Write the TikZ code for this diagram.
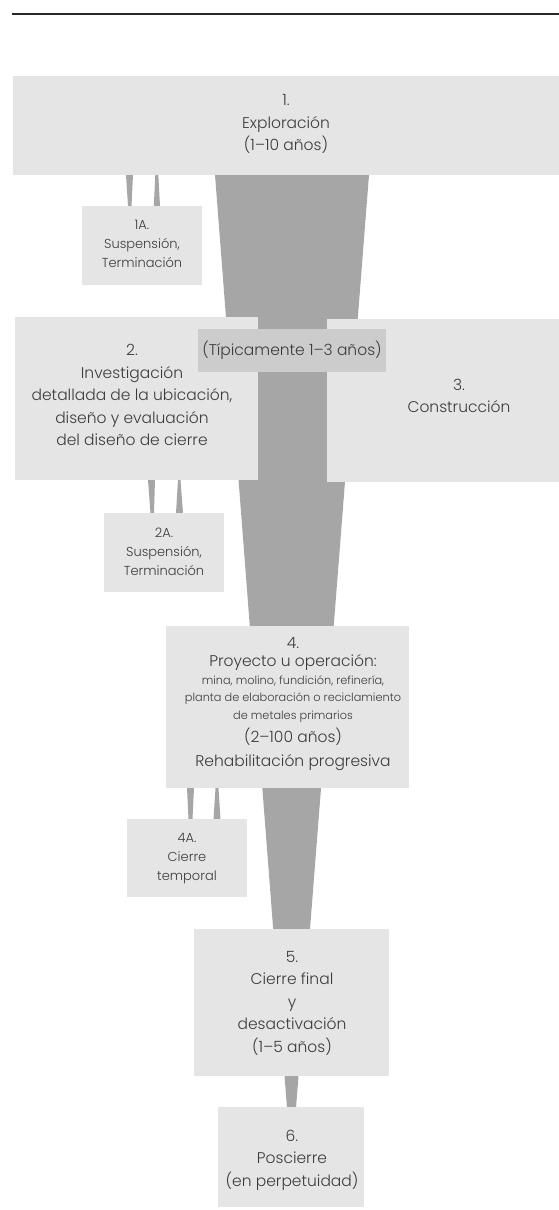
\documentclass[tikz,border=0pt]{standalone}
\usepackage{fontspec}
\setmainfont{Poppins Light}
\definecolor{boxgray}{RGB}{229,229,229}
\definecolor{labgray}{RGB}{204,204,204}
\definecolor{fungray}{RGB}{166,166,166}
\definecolor{txtgray}{RGB}{60,60,60}
\definecolor{rulegray}{RGB}{40,40,40}
\begin{document}
\begin{tikzpicture}[x=1pt,y=-1pt,
  box/.style={fill=boxgray, draw=none, inner sep=0pt, outer sep=0pt},
  labbox/.style={fill=labgray, draw=none, inner sep=0pt, outer sep=0pt, text=txtgray, font=\fontsize{15.5}{18}\selectfont},
  bigtxt/.style={text=txtgray, align=center, inner sep=0pt, font=\fontsize{15.5}{22.5}\selectfont},
  smalltxt/.style={text=txtgray, align=center, inner sep=0pt, font=\fontsize{13}{19}\selectfont},
  funnel/.style={fill=fungray, draw=none}]
\useasboundingbox (0,0) rectangle (559,1210);
% top rule
\draw[rulegray, line width=1.2pt] (12,14) -- (559,14);
% main funnel
\fill[funnel] (215,175) -- (369,175) -- (296,1108) -- (287,1108) -- cycle;
% side wedges (down and back up)
\fill[funnel] (126,175) -- (133,175) -- (131.5,206) -- (128,206) -- cycle;
\fill[funnel] (155.3,175) -- (158.3,175) -- (160,206) -- (153.8,206) -- cycle;
\fill[funnel] (148,480) -- (155,480) -- (154,513) -- (150.5,513) -- cycle;
\fill[funnel] (178,480) -- (180.5,480) -- (183,513) -- (176,513) -- cycle;
\fill[funnel] (187,788) -- (194,788) -- (192.5,819) -- (188.5,819) -- cycle;
\fill[funnel] (215.5,788) -- (218.5,788) -- (220.5,819) -- (213.5,819) -- cycle;
% boxes
\node[box, minimum width=546pt, minimum height=99pt] (b1) at (286,125.5) {};
\node[box, minimum width=120pt, minimum height=79pt] (b1a) at (142,245.5) {};
\node[box, minimum width=243pt, minimum height=163pt] (b2) at (136.5,398.5) {};
\node[box, minimum width=232pt, minimum height=163pt] (b3) at (443,400.5) {};
\node[box, minimum width=120pt, minimum height=79pt] (b2a) at (164,552.5) {};
\node[box, minimum width=243pt, minimum height=162pt] (b4) at (287.5,707) {};
\node[box, minimum width=120pt, minimum height=78pt] (b4a) at (187,858) {};
\node[box, minimum width=195pt, minimum height=147pt] (b5) at (291.5,1002.5) {};
\node[box, minimum width=146pt, minimum height=100pt] (b6) at (291,1157) {};
\node[labbox, minimum width=188pt, minimum height=43pt] (lab) at (292,350.5) {(Típicamente 1–3 años)};
% texts
\node[bigtxt] (t1) at (286,124) {1.\\Exploración\\(1–10 años)};
\node[smalltxt] (t1a) at (142,244) {1A.\\Suspensión,\\Terminación};
\node[bigtxt] (t2) at (132,395) {2.\\Investigación\\detallada de la ubicación,\\diseño y evaluación\\del diseño de cierre};
\node[bigtxt] (t3) at (459,396) {3.\\Construcción};
\node[smalltxt] (t2a) at (164,552) {2A.\\Suspensión,\\Terminación};
\node[bigtxt, font=\fontsize{15.5}{17.5}\selectfont] (t4) at (293,704) {4.\\[1pt]Proyecto u operación:\\{\fontsize{11.3}{17}\selectfont mina, molino, fundición, refinería,}\\{\fontsize{11.3}{17}\selectfont planta de elaboración o reciclamiento}\\{\fontsize{11.3}{17}\selectfont de metales primarios}\\[6pt](2–100 años)\\[6pt]Rehabilitación progresiva};
\node[smalltxt] (t4a) at (187,859) {4A.\\Cierre\\temporal};
\node[bigtxt] (t5) at (292,1003) {5.\\Cierre final\\y\\desactivación\\(1–5 años)};
\node[bigtxt] (t6) at (292,1160) {6.\\Poscierre\\(en perpetuidad)};
\end{tikzpicture}
\end{document}
